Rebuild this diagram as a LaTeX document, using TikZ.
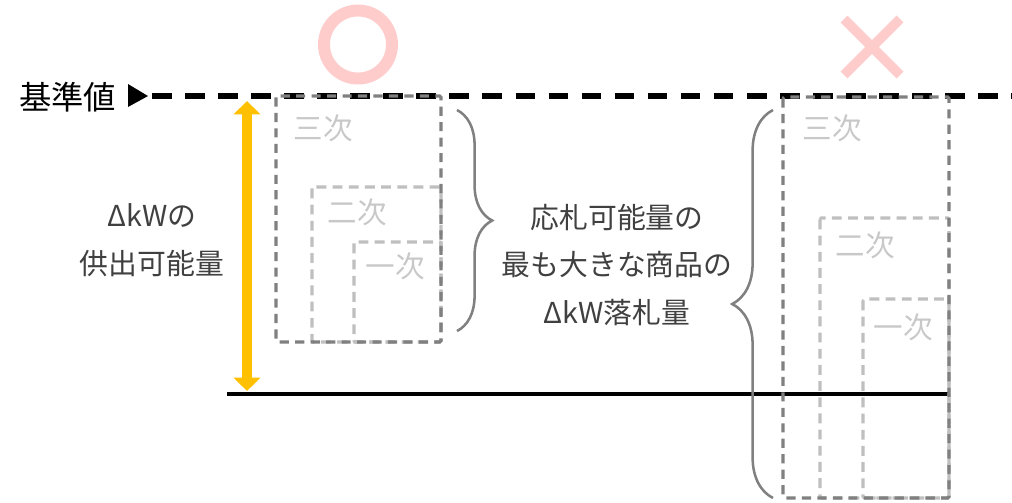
\documentclass[tikz,border=0pt]{standalone}
\usepackage{fontspec}
\setmainfont{Noto Sans CJK JP}
\usepackage{tikz}
\usetikzlibrary{arrows.meta,decorations.pathreplacing}
\definecolor{txtgray}{RGB}{64,64,64}
\definecolor{boxdark}{RGB}{128,128,128}
\definecolor{boxlight}{RGB}{191,191,191}
\definecolor{lblgray}{RGB}{200,200,200}
\definecolor{markpink}{RGB}{255,204,204}
\definecolor{arrowgold}{RGB}{255,192,0}

\begin{document}
\begin{tikzpicture}[x=0.025cm, y=-0.025cm,
        darkbox/.style={boxdark, line width=2.2pt, dash pattern=on 6.5pt off 4.5pt, rounded corners=1pt},
        lightbox/.style={boxlight, line width=2.2pt, dash pattern=on 7pt off 4.5pt, rounded corners=1pt},
        lbl/.style={lblgray, font=\fontsize{21}{24}\selectfont, inner sep=0pt},
        note/.style={txtgray, font=\fontsize{20.5}{34}\selectfont, align=center, inner sep=0pt},
        bracket/.style={boxdark, line width=1.8pt, decorate}]
    \useasboundingbox (0,0) rectangle (1012,502);

    \draw (19,97) node(kijun)[anchor=west, inner sep=0pt, font=\fontsize{23}{27}\selectfont]{基準値};
    \fill (128,84) -- (148,96) -- (128,107) -- cycle;
    \coordinate (base0) at (152,96);
    \coordinate (base1) at (1012,96);
    \draw[line width=3.6pt, dash pattern=on 14pt off 9.5pt] (base0) -- (base1);

    \draw[markpink, line width=8.5pt] (358,44.5) circle (0.85cm);
    \draw[markpink, line width=7pt] (844,19) -- (900,75) (844,75) -- (900,19);

    \coordinate (floor0) at (227,394);
    \coordinate (floor1) at (948,394);
    \draw[line width=3.5pt] (floor0) -- (floor1);

    \coordinate (atop) at (247,101);
    \coordinate (abot) at (247,391);
    \draw[arrowgold, line width=6.8pt, {Triangle[width=18.5pt,length=9.5pt]}-{Triangle[width=18.5pt,length=9.5pt]}] (atop) -- (abot);

    \draw (152,240.5) node(supply)[note]{ΔkWの\\供出可能量};

    \draw[lightbox] (354,242) rectangle (441,342);
    \draw[lightbox] (312,187) rectangle (441,342);
    \draw[darkbox] (276,96) rectangle (441,342);
    \draw (323,128) node(okC)[lbl]{三次};
    \draw (357,212) node(okB)[lbl]{二次};
    \draw (395,266) node(okA)[lbl]{一次};

    \draw[lightbox] (863,299) rectangle (949,498);
    \draw[lightbox] (820,218) rectangle (949,498);
    \draw[darkbox] (783,97) rectangle (949,498);
    \draw (832,128) node(ngC)[lbl]{三次};
    \draw (865,245) node(ngB)[lbl]{二次};
    \draw (903,327) node(ngA)[lbl]{一次};

    \draw (617,265) node(award)[note]{応札可能量の\\最も大きな商品の\\ΔkW落札量};

    \coordinate (bl0) at (457,110);
    \coordinate (bl1) at (457,331);
    \draw[bracket, decoration={brace, amplitude=25pt}] (bl0) -- (bl1);
    \coordinate (br0) at (773,498);
    \coordinate (br1) at (773,110);
    \draw[bracket, decoration={brace, amplitude=29pt}] (br0) -- (br1);
\end{tikzpicture}
\end{document}
